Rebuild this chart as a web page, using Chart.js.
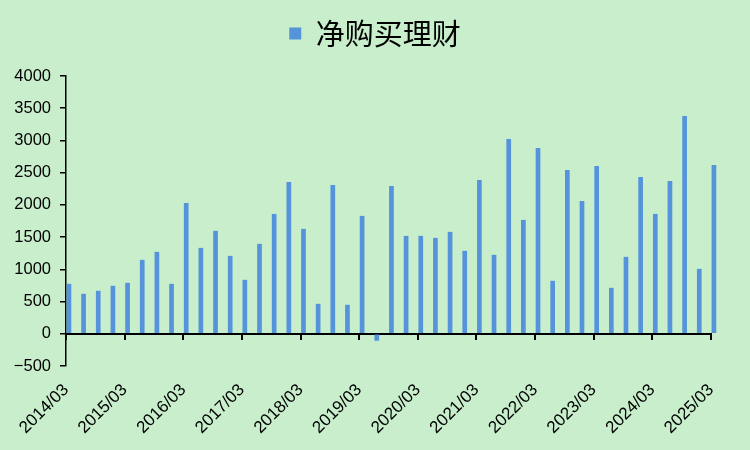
<!DOCTYPE html>
<html>
<head>
<meta charset="utf-8">
<script src="https://cdn.jsdelivr.net/npm/chart.js@4.4.1/dist/chart.umd.min.js"></script>
<style>
  html, body { margin: 0; padding: 0; background: #c8eecc; }
  #wrap { width: 750px; height: 450px; }
</style>
</head>
<body>
<div id="wrap"><canvas id="result"></canvas></div>
<script>
"use strict";
// quarters 2014/03 .. 2025/03
const years = ["2014", "2015", "2016", "2017", "2018", "2019", "2020", "2021", "2022", "2023", "2024", "2025"];
const months = ["03", "06", "09", "12"];
const quarters = [];
years.forEach((y) => {
  months.forEach((m) => {
    if (y !== "2025" || m === "03") quarters.push(y + "/" + m);
  });
});

// 净购买理财
const netPurchase = [
  775, 620, 667, 744, 791, 1147, 1271, 775,
  2031, 1333, 1597, 1209, 837, 1395, 1860, 2357,
  1628, 465, 2310, 450, 1829, -108, 2295, 1519,
  1519, 1488, 1581, 1287, 2388, 1225, 3023, 1767,
  2884, 822, 2543, 2062, 2605, 713, 1194, 2434,
  1860, 2372, 3380, 1008, 2620,
];
// empty slot so the bar sits just right of its tick
const spacer = quarters.map(() => null);

const yTicks = [-500, 0, 500, 1000, 1500, 2000, 2500, 3000, 3500, 4000];

const fontFamily = "'Liberation Sans', Arial, sans-serif";

new Chart("result", {
  type: "bar",
  data: {
    labels: quarters,
    datasets: [
      {
        label: "",
        data: spacer,
        xAxisID: "x",
        backgroundColor: "rgba(0,0,0,0)",
      },
      {
        label: "净购买理财",
        data: netPurchase,
        xAxisID: "x",
        backgroundColor: "#5594da",
        borderWidth: 0,
        clip: false,
      },
    ],
  },
  options: {
    responsive: true,
    maintainAspectRatio: false,
    animation: false,
    categoryPercentage: 0.8,
    barPercentage: 0.8,
    layout: { padding: { top: 9, right: 0, left: 0, bottom: 0 } },
    plugins: {
      tooltip: { enabled: false },
      // blank spacer between legend and plot
      title: {
        display: true,
        text: "",
        weight: 0,
        padding: 0,
        font: { size: 18, lineHeight: 1 },
      },
      legend: {
        position: "top",
        labels: {
          filter: (item) => item.text !== "",
          boxWidth: 12,
          boxHeight: 12,
          padding: 10,
          color: "#000",
          font: { family: "'Noto Sans CJK SC', sans-serif", size: 29 },
        },
      },
    },
    scales: {
      x: {
        type: "category",
        position: { y: 0 },
        offset: false,
        border: { display: true, color: "#000", width: 2 },
        grid: {
          offset: false,
          drawOnChartArea: false,
          drawTicks: true,
          tickLength: 5,
          lineWidth: 2,
          color: (c) => (c.index % 4 === 0 ? "#000" : "rgba(0,0,0,0)"),
        },
        ticks: { display: false },
      },
      x2: {
        type: "category",
        position: "bottom",
        offset: false,
        border: { display: false },
        grid: { display: false, drawTicks: false, offset: false },
        afterFit: (scale) => { scale.height = 84; },
        ticks: {
          autoSkip: false,
          minRotation: 45,
          maxRotation: 45,
          padding: 14,
          color: "#000",
          font: { family: fontFamily, size: 17 },
          callback: (value, index) => (index % 4 === 0 ? quarters[index] : null),
        },
      },
      y: {
        min: -500,
        max: 4000,
        afterFit: (scale) => { scale.width = 66; },
        afterBuildTicks: (scale) => { scale.ticks = yTicks.map((v) => ({ value: v })); },
        border: { display: true, color: "#000", width: 1.5 },
        grid: {
          drawOnChartArea: false,
          drawTicks: true,
          tickLength: 6,
          lineWidth: 1.5,
          color: "#000",
        },
        ticks: {
          padding: 9,
          color: "#000",
          font: { family: fontFamily, size: 16.5 },
          callback: (v) => (v < 0 ? "\u2212" + Math.abs(v) : String(v)),
        },
      },
      // empty strip on the right
      yRight: {
        position: "right",
        display: true,
        border: { display: false },
        grid: { display: false },
        ticks: { display: false },
        afterFit: (scale) => { scale.width = 39; },
      },
    },
  },
});
</script>
</body>
</html>
